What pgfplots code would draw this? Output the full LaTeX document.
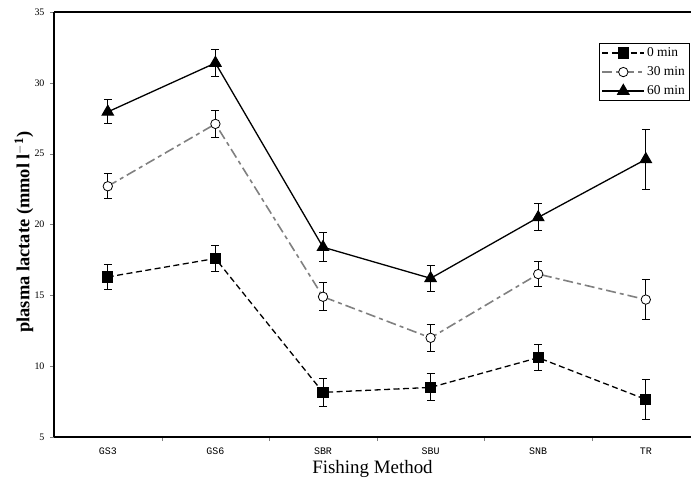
\documentclass[border=0pt]{standalone}
\usepackage{fontspec}
\setmainfont{Liberation Serif}
\setmonofont{Liberation Mono}
\usepackage{pgfplots}
\pgfplotsset{compat=1.18}
\definecolor{midgray}{RGB}{128,128,128}
\begin{document}
\begin{tikzpicture}
\begin{axis}[
  scale only axis,
  width=637bp, height=425bp,
  xmin=0, xmax=5.92,
  ymin=5, ymax=35,
  axis x line*=bottom,
  axis y line*=left,
  axis line style={line width=1.3bp},
  ytick={5,10,...,35},
  tick align=outside,
  major tick length=4bp,
  xtick={1,2,3,4,5},
  xticklabels={},
  extra x ticks={0.5,1.5,2.5,3.5,4.5,5.5},
  extra x tick labels={GS3,GS6,SBR,SBU,SNB,TR},
  extra x tick style={major tick length=0pt, tick label style={font=\ttfamily\fontsize{10}{12}\selectfont, yshift=-7bp}},
  y tick label style={font=\fontsize{10}{12}\selectfont, xshift=-2bp},
  /pgf/number format/assume math mode=true,
  xlabel={Fishing Method},
  xlabel style={font=\fontsize{19}{22}\selectfont, at={(axis description cs:0.5,-0.075)}, anchor=center},
  ylabel={\textbf{plasma lactate (mmol l$^{\mathbf{-1}}$)}},
  every axis y label/.style={at={(axis description cs:-0.047,0.482)}, rotate=90, anchor=center, font=\fontsize{18.5}{21}\selectfont},
  legend style={at={(rel axis cs:0.998,0.927)}, anchor=north east, draw=black, line width=0.8bp,
    font=\fontsize{13.5}{15}\selectfont, row sep=4.5bp, inner sep=2.5bp, cells={anchor=west}},
  legend image code/.code={
    \draw[#1, mark repeat=2, mark phase=2] plot coordinates {(0bp,0bp) (21bp,0bp) (42bp,0bp)};
  },
  error bars/y dir=both,
  error bars/y explicit,
  error bars/error bar style={black, solid, line width=1bp},
  error bars/error mark options={black, solid, rotate=90, mark size=4bp, line width=1bp},
]
\addplot[black, line width=1.3bp, dash pattern=on 6bp off 3.5bp,
  mark=square*, mark size=5bp, mark options={solid, fill=black}]
  coordinates {
  (0.5,16.3) +- (0,0.9)
  (1.5,17.6) +- (0,0.95)
  (2.5,8.15) +- (0,1.0)
  (3.5,8.5) +- (0,0.95)
  (4.5,10.6) +- (0,0.9)
  (5.5,7.65) +- (0,1.4)
  };
\addlegendentry{0 min}
\addplot[midgray, line width=1.6bp, dash pattern=on 10bp off 4bp on 4bp off 4bp,
  mark=*, mark size=4.7bp, mark options={solid, draw=black, fill=white, line width=0.8bp}]
  coordinates {
  (0.5,22.7) +- (0,0.9)
  (1.5,27.1) +- (0,0.95)
  (2.5,14.9) +- (0,1.0)
  (3.5,12.0) +- (0,0.95)
  (4.5,16.5) +- (0,0.9)
  (5.5,14.7) +- (0,1.4)
  };
\addlegendentry{30 min}
\addplot[black, line width=1.3bp, solid,
  mark=triangle*, mark size=6.3bp, mark options={solid, fill=black}]
  coordinates {
  (0.5,27.95) +- (0,0.85)
  (1.5,31.4) +- (0,0.95)
  (2.5,18.4) +- (0,1.0)
  (3.5,16.2) +- (0,0.9)
  (4.5,20.5) +- (0,0.95)
  (5.5,24.6) +- (0,2.1)
  };
\addlegendentry{60 min}
\draw[line width=1.3bp] (rel axis cs:0,1) -- (rel axis cs:1,1);
\end{axis}
\pgfresetboundingbox
\useasboundingbox (-54bp,-47bp) rectangle (637bp,437bp);
\end{tikzpicture}
\end{document}
